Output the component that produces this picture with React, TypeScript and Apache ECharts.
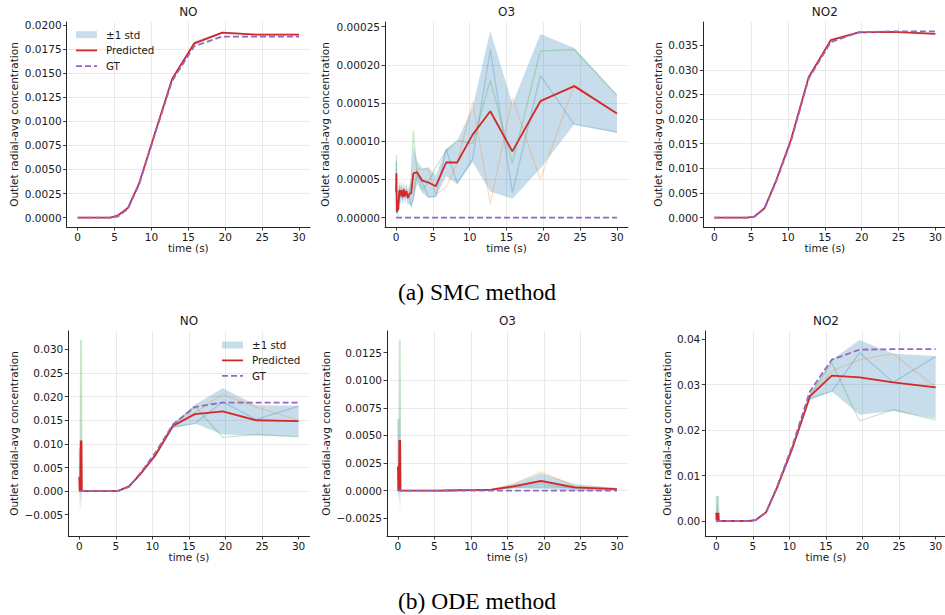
import React, { useEffect, useRef } from 'react';
import * as echarts from 'echarts';

// ---------- time grids ----------
const T_SMC = [0, 0.05, 0.1, 0.2, 0.3, 0.45, 0.6, 0.75, 0.9, 1.05, 1.2, 1.4, 1.6, 1.8, 2.05, 2.35, 2.85, 3.55, 4.4, 5.4, 6.8, 8.3, 10.4, 12.8, 15.8, 19.6, 24.2, 30];
const T_ODE = [0, 0.05, 0.1, 0.15, 0.2, 0.25, 0.3, 0.35, 0.4, 1.0, 2.0, 3.5, 4.4, 5.4, 6.8, 8.3, 10.4, 12.8, 15.8, 19.6, 24.2, 30];

const X_TICKS = [0, 5, 10, 15, 20, 25, 30];
const SPECIES = ['NO', 'O3', 'NO2'];
const CAPTIONS = ['(a) SMC method', '(b) ODE method'];
const Y_NAME = 'Outlet radial-avg concentration';
const X_NAME = 'time (s)';
const LEGEND_LABELS = ['\u00b11 std', 'Predicted', 'GT'];

// ---------- (a) SMC: NO ----------
const SMC_NO_PRED = [0, 0, 0, 0, 0, 0, 0, 0, 0, 0, 0, 0, 0, 0, 0, 0, 0, 0, 0, 0.0002, 0.001, 0.0035, 0.0086, 0.0144, 0.0181, 0.0192, 0.019, 0.019];
const SMC_NO_GT = [0, 0, 0, 0, 0, 0, 0, 0, 0, 0, 0, 0, 0, 0, 0, 0, 0, 0, 0, 0.0001, 0.0009, 0.0034, 0.0085, 0.0142, 0.0178, 0.0188, 0.0188, 0.0188];
const SMC_NO_STD = [0, 0, 0, 0, 0, 0, 0, 0, 0, 0, 0, 0, 0, 0, 0, 0, 0, 0, 0, 0.00002, 0.00005, 0.0001, 0.0001, 0.00015, 0.0002, 0.0001, 0.0001, 0.0001];

// ---------- (a) SMC: O3 ----------
const SMC_O3_PRED = [3.3e-5, 5.8e-5, 0.7e-5, 2.2e-5, 1.0e-5, 3.6e-5, 2.9e-5, 3.6e-5, 2.7e-5, 3.7e-5, 2.8e-5, 3.5e-5, 2.6e-5, 3.1e-5, 3.2e-5, 5.8e-5, 5.95e-5, 4.86e-5, 4.6e-5, 4.12e-5, 7.22e-5, 7.22e-5, 10.86e-5, 13.92e-5, 8.67e-5, 15.24e-5, 17.21e-5, 13.62e-5];
const SMC_O3_GT = [0, 0, 0, 0, 0, 0, 0, 0, 0, 0, 0, 0, 0, 0, 0, 0, 0, 0, 0, 0, 0, 0, 0, 0, 0, 0, 0, 0];
const SMC_O3_STD = [2.0e-5, 2.5e-5, 1.5e-5, 1.5e-5, 1.0e-5, 1.2e-5, 1.2e-5, 1.2e-5, 1.0e-5, 1.0e-5, 1.0e-5, 1.0e-5, 1.0e-5, 1.2e-5, 1.8e-5, 3.5e-5, 1.5e-5, 1.6e-5, 2.0e-5, 1.4e-5, 1.8e-5, 2.8e-5, 3.6e-5, 10.5e-5, 6.2e-5, 8.8e-5, 5.0e-5, 2.5e-5];
const SMC_O3_S1 = [3.6e-5, 7.4e-5, 0.6e-5, 2.4e-5, 1.0e-5, 4.2e-5, 2.6e-5, 3.2e-5, 2.4e-5, 3.4e-5, 2.6e-5, 3.2e-5, 2.4e-5, 3.0e-5, 1.4e-5, 2.6e-5, 5.6e-5, 4.6e-5, 2.7e-5, 2.8e-5, 9.0e-5, 4.5e-5, 7.7e-5, 22.0e-5, 3.3e-5, 18.6e-5, 12.2e-5, 11.2e-5];
const SMC_O3_S2 = [3.0e-5, 2.0e-5, 0.8e-5, 1.6e-5, 1.2e-5, 2.8e-5, 3.4e-5, 4.0e-5, 3.0e-5, 4.0e-5, 2.8e-5, 3.8e-5, 2.6e-5, 3.4e-5, 3.0e-5, 3.4e-5, 6.4e-5, 6.3e-5, 6.4e-5, 3.0e-5, 4.0e-5, 7.1e-5, 15.2e-5, 1.8e-5, 15.6e-5, 5.0e-5, 17.4e-5, 13.6e-5];
const SMC_O3_S3 = [3.3e-5, 8.2e-5, 0.7e-5, 2.6e-5, 0.8e-5, 3.8e-5, 2.7e-5, 3.6e-5, 2.7e-5, 3.7e-5, 3.0e-5, 3.5e-5, 2.8e-5, 2.9e-5, 5.2e-5, 11.4e-5, 5.8e-5, 3.6e-5, 4.7e-5, 6.6e-5, 8.7e-5, 10.1e-5, 9.7e-5, 18.0e-5, 7.1e-5, 21.8e-5, 22.0e-5, 16.0e-5];

// ---------- (a) SMC: NO2 ----------
const SMC_NO2_PRED = [0, 0, 0, 0, 0, 0, 0, 0, 0, 0, 0, 0, 0, 0, 0, 0, 0, 0, 0, 0.0002, 0.0019, 0.0072, 0.0158, 0.0285, 0.036, 0.0376, 0.0377, 0.0373];
const SMC_NO2_GT = [0, 0, 0, 0, 0, 0, 0, 0, 0, 0, 0, 0, 0, 0, 0, 0, 0, 0, 0, 0.0002, 0.0018, 0.007, 0.0155, 0.0282, 0.0356, 0.0376, 0.0378, 0.0378];
const SMC_NO2_STD = [0, 0, 0, 0, 0, 0, 0, 0, 0, 0, 0, 0, 0, 0, 0, 0, 0, 0, 0, 0.00002, 0.0001, 0.0002, 0.0002, 0.0002, 0.0002, 0.0001, 0.0001, 0.0002];

// ---------- (b) ODE: NO ----------
const ODE_NO_PRED = [0.003, 0, 0.003, 0, 0.0107, 0, 0.0107, 0, 0, 0, 0, 0, 0, 0.0001, 0.001, 0.0035, 0.0076, 0.0138, 0.0163, 0.0169, 0.015, 0.0148];
const ODE_NO_GT = [0, 0, 0, 0, 0, 0, 0, 0, 0, 0, 0, 0, 0, 0.0001, 0.0009, 0.0037, 0.0081, 0.0141, 0.0178, 0.01875, 0.01875, 0.01875];
const ODE_NO_STD = [0.0075, 0, 0.0075, 0, 0.0151, 0, 0.0151, 0, 0, 0, 0, 0, 0, 0.00005, 0.0001, 0.0002, 0.0003, 0.0005, 0.002, 0.0049, 0.0032, 0.0033];
const ODE_NO_S1 = [0.009, 0, 0.009, 0, 0, 0, 0, 0, 0, 0, 0, 0, 0, 0.0001, 0.001, 0.0035, 0.0074, 0.0136, 0.0143, 0.0189, 0.0152, 0.018];
const ODE_NO_S2 = [0, 0, 0, 0, 0, 0, 0, 0, 0, 0, 0, 0, 0, 0.0001, 0.0011, 0.0037, 0.0079, 0.014, 0.0166, 0.0205, 0.0178, 0.015];
const ODE_NO_S3 = [0, 0, 0, 0, 0.032, 0, 0.032, 0, 0, 0, 0, 0, 0, 0.0001, 0.001, 0.0034, 0.0075, 0.0138, 0.018, 0.0114, 0.012, 0.0115];

// ---------- (b) ODE: O3 ----------
const ODE_O3_PRED = [0.0022, 0, 0.0022, 0, 0.0046, 0, 0.0046, 0, 0, 0, 0, 0, 0, 0, 0.00002, 0.00004, 0.00006, 0.0001, 0.0004, 0.00088, 0.0003, 0.00015];
const ODE_O3_GT = [0, 0, 0, 0, 0, 0, 0, 0, 0, 0, 0, 0, 0, 0, 0, 0, 0, 0, 0, 0, 0, 0];
const ODE_O3_STD = [0.003, 0, 0.003, 0, 0.0065, 0, 0.0065, 0, 0, 0, 0, 0, 0, 0, 0.00001, 0.00002, 0.00003, 0.00005, 0.0002, 0.0007, 0.0003, 0.0001];
const ODE_O3_S1 = [0.0065, 0, 0.0065, 0, 0, 0, 0, 0, 0, 0, 0, 0, 0, 0, 0.00002, 0.00004, 0.00006, 0.0001, 0.0003, 0.0006, 0.0002, 0.0001];
const ODE_O3_S2 = [0, 0, 0, 0, 0, 0, 0, 0, 0, 0, 0, 0, 0, 0, 0.00002, 0.00004, 0.00006, 0.00012, 0.0006, 0.0017, 0.0004, 0.0002];
const ODE_O3_S3 = [0, 0, 0, 0, 0.0137, 0, 0.0137, 0, 0, 0, 0, 0, 0, 0, 0.00002, 0.00004, 0.00006, 0.00008, 0.0003, 0.00034, 0.0003, 0.00015];

// ---------- (b) ODE: NO2 ----------
const ODE_NO2_PRED = [0.0018, 0, 0.0018, 0, 0.0018, 0, 0.0018, 0, 0, 0, 0, 0, 0, 0.0002, 0.0019, 0.0073, 0.016, 0.0274, 0.032, 0.0316, 0.0305, 0.0294];
const ODE_NO2_GT = [0, 0, 0, 0, 0, 0, 0, 0, 0, 0, 0, 0, 0, 0.0002, 0.0019, 0.0075, 0.0165, 0.0285, 0.0355, 0.0377, 0.0378, 0.0378];
const ODE_NO2_STD = [0.0025, 0, 0.0025, 0, 0.0025, 0, 0.0025, 0, 0, 0, 0, 0, 0, 0.00005, 0.0001, 0.0003, 0.0006, 0.0008, 0.0035, 0.0082, 0.0063, 0.0069];
const ODE_NO2_S1 = [0.0055, 0, 0.0055, 0, 0, 0, 0, 0, 0, 0, 0, 0, 0, 0.0002, 0.0019, 0.0072, 0.0157, 0.027, 0.0285, 0.037, 0.0305, 0.0362];
const ODE_NO2_S2 = [0, 0, 0, 0, 0, 0, 0, 0, 0, 0, 0, 0, 0, 0.0002, 0.0019, 0.0074, 0.0162, 0.0276, 0.033, 0.0355, 0.0368, 0.0295];
const ODE_NO2_S3 = [0, 0, 0, 0, 0.0055, 0, 0.0055, 0, 0, 0, 0, 0, 0, 0.0002, 0.0019, 0.0073, 0.0161, 0.0276, 0.0348, 0.022, 0.0245, 0.0222];

// ---------- y tick labels ----------
const Y_TICKS_SMC_NO = [0, 0.0025, 0.005, 0.0075, 0.01, 0.0125, 0.015, 0.0175, 0.02];
const Y_TICKS_SMC_O3 = [0, 0.00005, 0.0001, 0.00015, 0.0002, 0.00025];
const Y_TICKS_SMC_NO2 = [0, 0.005, 0.01, 0.015, 0.02, 0.025, 0.03, 0.035];
const Y_TICKS_ODE_NO = [-0.005, 0, 0.005, 0.01, 0.015, 0.02, 0.025, 0.03];
const Y_TICKS_ODE_O3 = [-0.0025, 0, 0.0025, 0.005, 0.0075, 0.01, 0.0125];
const Y_TICKS_ODE_NO2 = [0, 0.01, 0.02, 0.03, 0.04];

// ---------- panels ----------
type Panel = {
  times: number[]; pred: number[]; gt: number[]; std: number[]; samples: number[][];
  yTicks: number[]; dec: number; yMin: number; yMax: number; step: number;
  grid: { left: number; top: number; width: number; height: number };
  yNameX: number; title: string;
};

const PANELS: Panel[] = [
  { times: T_SMC, pred: SMC_NO_PRED, gt: SMC_NO_GT, std: SMC_NO_STD, samples: [],
    yTicks: Y_TICKS_SMC_NO, dec: 4, yMin: -0.00097, yMax: 0.02031, step: 0.0025,
    grid: { left: 66.6, top: 22, width: 243.5, height: 205 }, yNameX: 14, title: SPECIES[0] },
  { times: T_SMC, pred: SMC_O3_PRED, gt: SMC_O3_GT, std: SMC_O3_STD, samples: [SMC_O3_S1, SMC_O3_S2, SMC_O3_S3],
    yTicks: Y_TICKS_SMC_O3, dec: 5, yMin: -0.0000122, yMax: 0.000256, step: 0.00005,
    grid: { left: 385, top: 22, width: 243, height: 205 }, yNameX: 325, title: SPECIES[1] },
  { times: T_SMC, pred: SMC_NO2_PRED, gt: SMC_NO2_GT, std: SMC_NO2_STD, samples: [],
    yTicks: Y_TICKS_SMC_NO2, dec: 3, yMin: -0.00189, yMax: 0.03969, step: 0.005,
    grid: { left: 703.3, top: 22, width: 243.1, height: 205 }, yNameX: 658, title: SPECIES[2] },
  { times: T_ODE, pred: ODE_NO_PRED, gt: ODE_NO_GT, std: ODE_NO_STD, samples: [ODE_NO_S1, ODE_NO_S2, ODE_NO_S3],
    yTicks: Y_TICKS_ODE_NO, dec: 3, yMin: -0.0095, yMax: 0.0339, step: 0.005,
    grid: { left: 68.3, top: 331, width: 241.3, height: 205 }, yNameX: 14, title: SPECIES[0] },
  { times: T_ODE, pred: ODE_O3_PRED, gt: ODE_O3_GT, std: ODE_O3_STD, samples: [ODE_O3_S1, ODE_O3_S2, ODE_O3_S3],
    yTicks: Y_TICKS_ODE_O3, dec: 4, yMin: -0.0041, yMax: 0.01446, step: 0.0025,
    grid: { left: 387, top: 331, width: 240.9, height: 205 }, yNameX: 326, title: SPECIES[1] },
  { times: T_ODE, pred: ODE_NO2_PRED, gt: ODE_NO2_GT, std: ODE_NO2_STD, samples: [ODE_NO2_S1, ODE_NO2_S2, ODE_NO2_S3],
    yTicks: Y_TICKS_ODE_NO2, dec: 2, yMin: -0.0033, yMax: 0.0418, step: 0.01,
    grid: { left: 705.3, top: 331, width: 241.3, height: 205 }, yNameX: 667, title: SPECIES[2] },
];

const FONT = 'DejaVu Sans';
const INK = '#1a1a1a';
const SPINE = '#262626';
const GRIDC = '#e8e8e8';
const C_BAND = 'rgba(31,119,180,0.25)';
const C_PRED = '#d62728';
const C_GT = '#9467bd';
const C_SAMPLES = ['#1f77b4', '#ff7f0e', '#2ca02c'];

function fmt(v: number, dec: number) {
  const s = Math.abs(v).toFixed(dec);
  return (v < -1e-12 ? '\u2212' : '') + s;
}

function txt(x: number, y: number, text: string, size: number, opts: any = {}) {
  const align = opts.align || 'center';
  return {
    type: 'text', x, y, rotation: opts.rotation || 0, silent: true, z: 100,
    style: {
      text, fontSize: size, fontFamily: opts.family || FONT, fill: opts.fill || INK,
      align, verticalAlign: 'middle', textAlign: align, textVerticalAlign: 'middle',
    },
  };
}

function buildOption() {
  const grid: any[] = [];
  const xAxis: any[] = [];
  const yAxis: any[] = [];
  const series: any[] = [];
  const graphic: any[] = [];

  PANELS.forEach((p, idx) => {
    grid.push({ ...p.grid, containLabel: false, outerBoundsMode: 'none' });
    xAxis.push({
      type: 'value', gridIndex: idx, min: -1.5, max: 31.5, minInterval: 5, maxInterval: 5,
      axisLine: { show: true, onZero: false, lineStyle: { color: SPINE, width: 1 } },
      axisTick: { show: true, inside: false, length: 3.5, customValues: X_TICKS, lineStyle: { color: SPINE, width: 0.9 } },
      axisLabel: { show: true, margin: 4.5, customValues: X_TICKS, color: INK, fontSize: 10.5, fontFamily: FONT,
        formatter: (v: number) => String(Math.round(v)) },
      splitLine: { show: true, showMinLine: false, showMaxLine: false, lineStyle: { color: GRIDC, width: 0.9 } },
    });
    yAxis.push({
      type: 'value', gridIndex: idx, min: p.yMin, max: p.yMax, minInterval: p.step, maxInterval: p.step,
      axisLine: { show: true, onZero: false, lineStyle: { color: SPINE, width: 1 } },
      axisTick: { show: true, inside: false, length: 3.5, customValues: p.yTicks, lineStyle: { color: SPINE, width: 0.9 } },
      axisLabel: { show: true, margin: 5, customValues: p.yTicks, color: INK, fontSize: 10.5, fontFamily: FONT,
        formatter: (v: number) => fmt(v, p.dec) },
      splitLine: { show: true, showMinLine: false, showMaxLine: false, lineStyle: { color: GRIDC, width: 0.9 } },
    });

    const times = p.times, mean = p.pred, std = p.std;
    series.push({
      type: 'custom', xAxisIndex: idx, yAxisIndex: idx, silent: true, z: 1,
      data: times.map((t, i) => [t, mean[i]]),
      renderItem: (params: any, api: any) => {
        if (params.dataIndex !== 0) return null;
        const up = times.map((t, i) => api.coord([t, mean[i] + std[i]]));
        const lo = times.map((t, i) => api.coord([t, mean[i] - std[i]])).reverse();
        return { type: 'polygon', shape: { points: up.concat(lo) }, style: { fill: C_BAND, stroke: null } };
      },
    });
    p.samples.forEach((s, k) => {
      series.push({
        type: 'line', xAxisIndex: idx, yAxisIndex: idx, silent: true, z: 2,
        symbol: 'none', showSymbol: false, animation: false,
        data: times.map((t, i) => [t, s[i]]),
        lineStyle: { color: C_SAMPLES[k], width: 1.3, opacity: 0.25 },
        emphasis: { disabled: true },
      });
    });
    series.push({
      type: 'line', name: 'Predicted', xAxisIndex: idx, yAxisIndex: idx, silent: true, z: 3,
      symbol: 'none', showSymbol: false,
      data: times.map((t, i) => [t, p.pred[i]]),
      lineStyle: { color: C_PRED, width: 1.8 },
      emphasis: { disabled: true },
    });
    series.push({
      type: 'line', name: 'GT', xAxisIndex: idx, yAxisIndex: idx, silent: true, z: 4,
      symbol: 'none', showSymbol: false,
      data: times.map((t, i) => [t, p.gt[i]]),
      lineStyle: { color: C_GT, width: 1.8, type: [6, 3] },
      emphasis: { disabled: true },
    });

    const g = p.grid;
    const cx = g.left + g.width / 2;
    graphic.push(txt(cx, g.top - 10, p.title, 12));
    graphic.push(txt(cx, g.top + g.height + 21, X_NAME, 10.5));
    graphic.push(txt(p.yNameX, g.top + g.height / 2, Y_NAME, 10.5, { rotation: Math.PI / 2 }));
  });

  // legends
  const legendAt = (hx: number, tx: number, y0: number, dy: number) => {
    graphic.push({ type: 'rect', silent: true, z: 100, shape: { x: hx, y: y0 - 3.5, width: 21, height: 7 }, style: { fill: C_BAND } });
    graphic.push({ type: 'line', silent: true, z: 100, shape: { x1: hx, y1: y0 + dy, x2: hx + 21, y2: y0 + dy }, style: { stroke: C_PRED, lineWidth: 1.8 } });
    graphic.push({ type: 'line', silent: true, z: 100, shape: { x1: hx, y1: y0 + 2 * dy, x2: hx + 21, y2: y0 + 2 * dy }, style: { stroke: C_GT, lineWidth: 1.8, lineDash: [6, 3] } });
    LEGEND_LABELS.forEach((l, i) => graphic.push(txt(tx, y0 + i * dy, l, 10.3, { align: 'left' })));
  };
  legendAt(76, 106, 34.7, 15.7);
  legendAt(222, 252, 345, 15.4);

  graphic.push(txt(477, 292, CAPTIONS[0], 23.5, { family: 'Liberation Serif', fill: '#000' }));
  graphic.push(txt(477, 601, CAPTIONS[1], 23.5, { family: 'Liberation Serif', fill: '#000' }));

  return {
    animation: false,
    backgroundColor: '#ffffff',
    textStyle: { fontFamily: FONT },
    grid, xAxis, yAxis, series, graphic,
  };
}

export default function App() {
  const ref = useRef<HTMLDivElement>(null);
  useEffect(() => {
    if (!ref.current) return;
    const chart = echarts.init(ref.current, undefined, { renderer: 'svg' });
    chart.setOption(buildOption() as any);
    return () => chart.dispose();
  }, []);
  return <div ref={ref} style={{ position: 'absolute', left: 0, top: 0, width: 945, height: 615 }} />;
}
